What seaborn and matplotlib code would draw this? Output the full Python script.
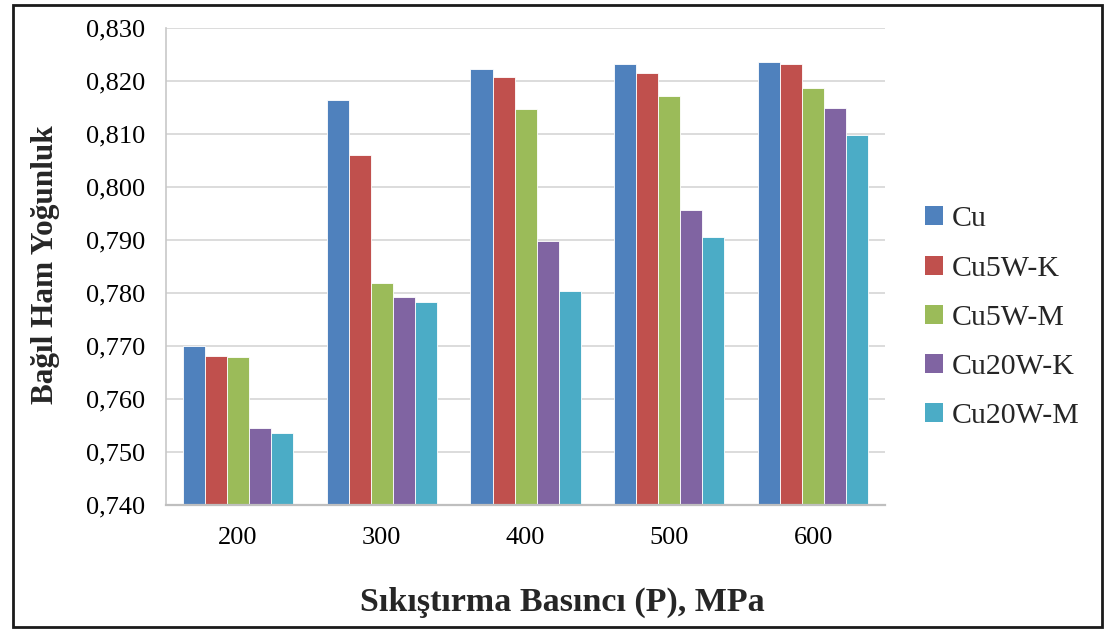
import matplotlib
matplotlib.use("Agg")
import matplotlib.pyplot as plt
from matplotlib.patches import Rectangle, Patch
from matplotlib.ticker import FixedLocator, FuncFormatter
import numpy as np
import pandas as pd
import seaborn as sns

# Compaction pressure (MPa) and relative green density per material
pressures = ["200", "300", "400", "500", "600"]
series_names = ["Cu", "Cu5W-K", "Cu5W-M", "Cu20W-K", "Cu20W-M"]
cu = [0.7700, 0.8164, 0.8222, 0.8233, 0.8236]
cu5w_k = [0.7681, 0.8060, 0.8208, 0.8216, 0.8232]
cu5w_m = [0.7679, 0.7819, 0.8147, 0.8172, 0.8186]
cu20w_k = [0.7545, 0.7792, 0.7899, 0.7956, 0.8149]
cu20w_m = [0.7535, 0.7783, 0.7804, 0.7905, 0.8099]
colors = ["#4F81BD", "#C0504D", "#9BBB59", "#8064A2", "#4BACC6"]

values = [cu, cu5w_k, cu5w_m, cu20w_k, cu20w_m]
df = pd.DataFrame({
    "pressure": np.repeat([pressures], len(series_names), axis=0).ravel(),
    "series": np.repeat(series_names, len(pressures)),
    "density": np.concatenate(values),
})

sns.set_theme(style="white")
plt.rcParams["font.family"] = ["Liberation Serif", "DejaVu Serif"]

fig = plt.figure(figsize=(11.07, 6.32), dpi=100)
ax = fig.add_axes([0.150, 0.2009, 0.6495, 0.7548])

sns.barplot(data=df, x="pressure", y="density", hue="series",
            order=pressures, hue_order=series_names, palette=colors,
            width=0.766, saturation=1, edgecolor="white", linewidth=0.6,
            ax=ax, legend=False)

ax.set_ylim(0.740, 0.830)
ax.set_xlim(-0.5, len(pressures) - 0.5)
ax.yaxis.set_major_locator(FixedLocator(np.arange(0.740, 0.8301, 0.010)))
ax.yaxis.set_major_formatter(FuncFormatter(lambda v, _: f"{v:.3f}".replace(".", ",")))
ax.grid(axis="y", color="#d9d9d9", linewidth=1.3)
ax.set_axisbelow(True)
for side in ["top", "right"]:
    ax.spines[side].set_visible(False)
ax.spines["left"].set_color("#c8c8c8")
ax.spines["bottom"].set_color("#bfbfbf")
ax.spines["left"].set_linewidth(1.2)
ax.spines["bottom"].set_linewidth(1.6)
ax.tick_params(axis="both", length=0, labelsize=19, colors="black")
ax.tick_params(axis="y", pad=15)
ax.tick_params(axis="x", pad=16)

ax.set_xlabel("Sıkıştırma Basıncı (P), MPa", fontsize=24.5, fontweight="bold")
ax.set_ylabel("Bağıl Ham Yoğunluk", fontsize=22.5, fontweight="bold")
ax.xaxis.set_label_coords(0.551, -0.205)
ax.xaxis.label.set_va("center")
ax.yaxis.set_label_coords(-0.168, 0.503)
ax.yaxis.label.set_va("center")

handles = [Patch(facecolor=c, edgecolor="none") for c in colors]
fig.legend(handles, series_names, loc="center left",
           bbox_to_anchor=(0.811, 0.497), frameon=False, fontsize=21.5,
           handlelength=0.6, handleheight=0.6, handletextpad=0.3,
           labelspacing=0.78)

# Outer frame around the whole chart
fig.add_artist(Rectangle((0.0117, 0.0079), 0.9837, 0.984,
                         transform=fig.transFigure, fill=False,
                         edgecolor="#1a1a1a", linewidth=2))

fig.savefig("out.png", dpi=100)
